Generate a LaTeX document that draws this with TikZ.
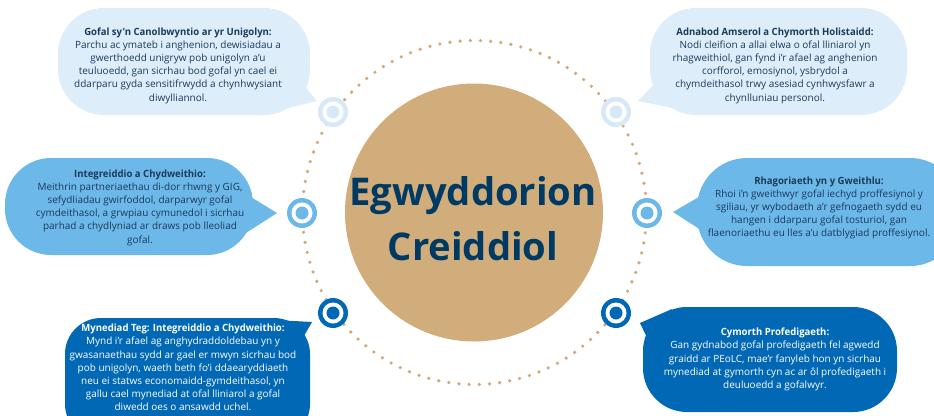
\documentclass[tikz,border=0pt]{standalone}
\usepackage{fontspec}
\setmainfont{Open Sans}
\newlength\tmpw
\settowidth\tmpw{\fontsize{10}{12}\selectfont Parchu ac ymateb i anghenion, dewisiadau a}
\pgfmathsetmacro\bodysize{10*206/\tmpw}
\settowidth\tmpw{\fontsize{10}{12}\selectfont\bfseries Gofal sy'n Canolbwyntio ar yr Unigolyn:}
\pgfmathsetmacro\headstretch{187/(\tmpw*\bodysize/10)}
\settowidth\tmpw{\fontsize{10}{12}\selectfont\bfseries Egwyddorion}
\pgfmathsetmacro\titlesize{10*247/\tmpw}
\newfontfamily\headfont{Open Sans}[FakeStretch=\headstretch]
\newcommand\headtxt[1]{{\headfont\bfseries #1}}
\definecolor{navy}{HTML}{1B3A5C}
\definecolor{titlenavy}{HTML}{003A63}
\definecolor{pale}{HTML}{DDEEFA}
\definecolor{paletarget}{HTML}{D7E9F8}
\definecolor{midblue}{HTML}{6CB8E8}
\definecolor{deepblue}{HTML}{0068B4}
\definecolor{coretan}{HTML}{D1AD7C}
\definecolor{dottan}{HTML}{D2A878}
\begin{document}
\begin{tikzpicture}[x=1pt,y=-1pt,
  bodytext/.style={align=center,inner sep=0pt,font=\fontsize{\bodysize}{13.2}\selectfont},
  target/.style={circle,minimum size=30pt,inner sep=0pt,fill=#1,
    path picture={\fill[white] (path picture bounding box.center) circle[radius=10.5pt];
                  \fill[#1] (path picture bounding box.center) circle[radius=6.5pt];}},
  ringdot/.style={fill=dottan}
]
\useasboundingbox (0,0) rectangle (934,415);
\clip (0,0) rectangle (934,415);

% dotted ring
\coordinate (ringc) at (474.5,212.5);
\foreach \a in {0,3.4,...,358}{
  \fill[ringdot] (ringc) ++(\a:172) circle[radius=1.8pt];
}

% core circle and title
\node[circle,fill=coretan,minimum size=258pt,inner sep=0pt] (core) at (474,212.5) {};
\node[align=center,inner sep=0pt,text=titlenavy,font=\fontsize{\titlesize}{55}\selectfont\bfseries] (title) at (473,218.5) {Egwyddorion\\Creiddiol};

% bubbles: top-left
\fill[pale,rounded corners=46pt] (58,8) rectangle (310,115);
\fill[pale] (298,78) -- (317,101) -- (288,108) -- cycle;
% top-right
\fill[pale,rounded corners=46pt] (650,8) rectangle (907,115);
\fill[pale] (660,78) -- (638,101) -- (672,108) -- cycle;
% middle-left
\fill[midblue,rounded corners=46pt] (5,158) rectangle (253,255);
\fill[midblue] (246,194) -- (277,213) -- (246,233) -- cycle;
% middle-right
\fill[midblue,rounded corners=50pt] (697,158) rectangle (960,266);
\fill[midblue] (704,194) -- (673,212) -- (704,232) -- cycle;
% bottom-left
\fill[deepblue,rounded corners=36pt] (65,318) rectangle (310,440);
\fill[deepblue] (275,320) -- (312,322) -- (296,350) -- cycle;
% bottom-right
\fill[deepblue,rounded corners=44pt] (643,307) rectangle (897,412);
\fill[deepblue] (672,309) -- (640,323) -- (652,348) -- cycle;

% targets
\node[target=paletarget] (t1) at (333,112) {};
\node[target=paletarget] (t2) at (616,112) {};
\node[target=midblue] (t3) at (302,213) {};
\node[target=midblue] (t4) at (647,213) {};
\node[target=deepblue] (t5) at (333,313) {};
\node[target=deepblue] (t6) at (616,313) {};

% texts
\node[bodytext,text=navy] (txt1) at (178,65.5) {\headtxt{Gofal sy'n Canolbwyntio ar yr Unigolyn:}\\
Parchu ac ymateb i anghenion, dewisiadau a\\
gwerthoedd unigryw pob unigolyn a'u\\
teuluoedd, gan sicrhau bod gofal yn cael ei\\
ddarparu gyda sensitifrwydd a chynhwysiant\\
diwylliannol.};

\node[bodytext,text=navy] (txt2) at (775,65.5) {\headtxt{Adnabod Amserol a Chymorth Holistaidd:}\\
Nodi cleifion a allai elwa o ofal lliniarol yn\\
rhagweithiol, gan fynd i'r afael ag anghenion\\
corfforol, emosiynol, ysbrydol a\\
chymdeithasol trwy asesiad cynhwysfawr a\\
chynlluniau personol.};

\node[bodytext,text=navy] (txt3) at (140,207.5) {\headtxt{Integreiddio a Chydweithio:}\\
Meithrin partneriaethau di-dor rhwng y GIG,\\
sefydliadau gwirfoddol, darparwyr gofal\\
cymdeithasol, a grwpiau cymunedol i sicrhau\\
parhad a chydlyniad ar draws pob lleoliad\\
gofal.};

\node[bodytext,text=navy] (txt4) at (819,208) {\headtxt{Rhagoriaeth yn y Gweithlu:}\\
Rhoi i'n gweithwyr gofal iechyd proffesiynol y\\
sgiliau, yr wybodaeth a'r gefnogaeth sydd eu\\
hangen i ddarparu gofal tosturiol, gan\\
flaenoriaethu eu lles a'u datblygiad proffesiynol.};

\node[bodytext,text=white] (txt5) at (183,367.5) {\headtxt{Mynediad Teg: Integreiddio a Chydweithio:}\\
Mynd i'r afael ag anghydraddoldebau yn y\\
gwasanaethau sydd ar gael er mwyn sicrhau bod\\
pob unigolyn, waeth beth fo'i ddaearyddiaeth\\
neu ei statws economaidd-gymdeithasol, yn\\
gallu cael mynediad at ofal lliniarol a gofal\\
diwedd oes o ansawdd uchel.};

\node[bodytext,text=white] (txt6) at (775,359.5) {\headtxt{Cymorth Profedigaeth:}\\
Gan gydnabod gofal profedigaeth fel agwedd\\
graidd ar PEoLC, mae'r fanyleb hon yn sicrhau\\
mynediad at gymorth cyn ac ar ôl profedigaeth i\\
deuluoedd a gofalwyr.};
\end{tikzpicture}
\end{document}
